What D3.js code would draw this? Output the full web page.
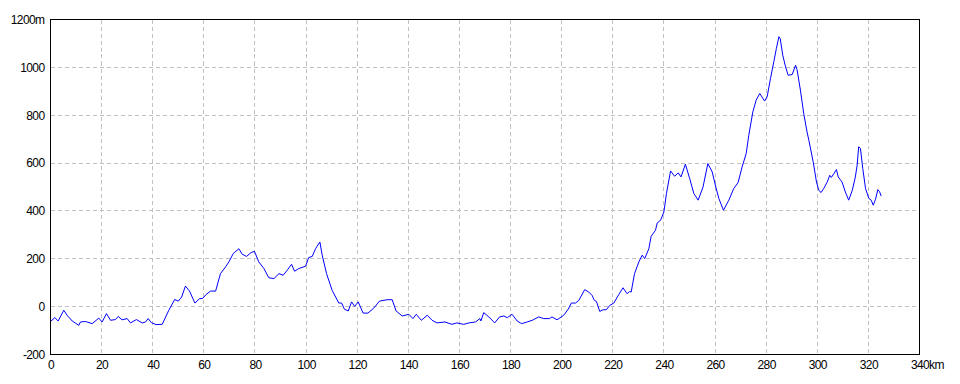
<!DOCTYPE html>
<meta charset="utf-8">
<style>
  body { margin: 0; background: #fff; }
  text { font-family: 'Liberation Sans', sans-serif; font-size: 12px; letter-spacing: -0.6px; fill: #000; }
</style>

<!-- Load d3.js -->
<script src="https://d3js.org/d3.v7.min.js"></script>

<div id="my_dataviz"></div>

<script>

// distance along the route (km) and elevation (m)
var distKm = [0, 1.7, 3, 5.2, 6.5, 8.5, 11.1, 11.7, 13.7, 16.3, 18.9, 20.2, 21.9, 23.5, 25.4, 26.5, 28, 30,
  31.3, 33.6, 35.9, 37.2, 38.2, 39.5, 41.3, 43.7, 46.3, 48.6, 50, 51.3, 52.8, 54.4, 56.5, 58.3, 59.6,
  60.9, 62.6, 64.6, 66.5, 68.5, 69.8, 71.5, 73.7, 75, 76.7, 78.5, 79.8, 81.5, 83.5, 85.4, 87.4, 89.4,
  91, 92.6, 94.3, 95.5, 97.1, 99.8, 101, 102.4, 103.7, 105.4, 106.3, 108, 110.2, 112.8, 113.9, 115,
  116.5, 117.8, 119, 120.4, 122.3, 124.2, 126.5, 128.7, 131.7, 133.7, 135.2, 137.6, 140.2, 141.8,
  143.1, 145.1, 147.4, 149.3, 151.2, 154.3, 157.1, 159, 161.7, 163.7, 166.3, 168, 168.4, 169.5,
  171.5, 173.8, 175.7, 177.4, 178.7, 180.6, 182.6, 184.3, 186.5, 188.5, 191, 193, 195.2, 196.2,
  198.2, 200.8, 202.6, 203.8, 205.4, 206.7, 209, 210.6, 211.9, 212.8, 213.6, 214.9, 216.2, 217.5,
  218.8, 220.4, 222.3, 224, 225.6, 226.5, 227.2, 228.5, 230.2, 231.5, 232.5, 234.1, 235, 236.7,
  237.4, 238.7, 240, 241, 242.6, 244.2, 245.6, 246.7, 248.4, 250.1, 251.7, 253.4, 255.3, 257.2,
  258.9, 260.3, 261.5, 263.3, 265.4, 267.3, 269, 270.6, 272.2, 273.2, 274.8, 276.1, 277.5, 279.4,
  280.4, 281.7, 283, 284, 285, 285.5, 286.5, 287.6, 288.6, 290.2, 291.5, 292.1, 293.4, 294.7, 296,
  296.7, 298.4, 299.7, 300.6, 301.5, 302.5, 303.9, 304.9, 305.5, 306.5, 307.5, 308.2, 309.7, 311,
  312.3, 313.7, 314.9, 315.6, 316.2, 316.9, 317.8, 318.9, 320.2, 321.1, 321.9, 322.8, 323.7, 324.4, 325];

var elevM = [-62, -46, -60, -15, -36, -60, -78, -64, -62, -71, -48, -64, -29, -57, -54, -41, -55, -50,
  -68, -54, -68, -64, -50, -67, -75, -74, -15, 30, 23, 40, 86, 65, 15, 33, 35,
  51, 65, 65, 138, 166, 187, 222, 242, 219, 210, 226, 231, 187, 159, 121, 117, 138,
  131, 152, 177, 148, 159, 169, 205, 210, 242, 270, 215, 138, 68, 15, 15, -11,
  -18, 20, 1, 20, -27, -27, -6, 23, 29, 29, -18, -39, -32, -50,
  -32, -57, -36, -57, -68, -64, -74, -68, -74, -68, -64, -50, -60, -25,
  -43, -68, -43, -39, -46, -32, -60, -71, -64, -57, -43, -50, -50, -43,
  -55, -36, -10, 15, 15, 26, 71, 61, 47, 26, 22, -20, -13, -13,
  5, 15, 50, 79, 54, 63, 61, 138, 187, 215, 201, 242, 294, 319,
  350, 361, 396, 473, 567, 545, 559, 542, 595, 535, 473, 445, 500, 598,
  563, 500, 452, 403, 445, 493, 518, 584, 640, 716, 814, 863, 891, 859,
  877, 954, 1023, 1079, 1128, 1120, 1051, 1002, 967, 970, 1009, 990, 905, 807, 730,
  696, 605, 521, 486, 477, 493, 521, 549, 540, 556, 573, 542, 521, 479,
  445, 486, 542, 591, 668, 661, 577, 493, 452, 445, 424, 449, 489, 480, 462];

// tick values
var xTicks = d3.range(0, 341, 20);
var yTicks = d3.range(-200, 1201, 200);

// set the dimensions and margins of the graph
var margin = {top: 19.5, right: 40.5, bottom: 29.5, left: 50.5},
    width = 960 - 50 - 41,
    height = 354 - 19;

// append the svg object to the body of the page
var svg = d3.select("#my_dataviz")
  .append("svg")
    .attr("width", 960)
    .attr("height", 384)
  .append("g")
    .attr("transform", "translate(" + margin.left + "," + margin.top + ")");

var x = d3.scaleLinear().domain([0, 340]).range([0, width]);
var y = d3.scaleLinear().domain([-200, 1200]).range([height, 0]);

// dashed grid (inner lines only, the frame covers the edges)
svg.append("g")
  .selectAll("line")
  .data(xTicks.slice(1, -1))
  .enter().append("line")
    .attr("x1", function(d) { return Math.round(x(d)); })
    .attr("x2", function(d) { return Math.round(x(d)); })
    .attr("y1", 0)
    .attr("y2", height)
    .attr("stroke", "#c0c0c0")
    .attr("stroke-dasharray", "4,3")
    .attr("shape-rendering", "crispEdges");

svg.append("g")
  .selectAll("line")
  .data(yTicks.slice(1, -1))
  .enter().append("line")
    .attr("x1", 0)
    .attr("x2", width)
    .attr("y1", function(d) { return Math.round(y(d)); })
    .attr("y2", function(d) { return Math.round(y(d)); })
    .attr("stroke", "#c0c0c0")
    .attr("stroke-dasharray", "4,3")
    .attr("shape-rendering", "crispEdges");

// X axis
var xAxis = svg.append("g")
  .attr("transform", "translate(0," + height + ")")
  .call(d3.axisBottom(x).tickValues(xTicks).tickSize(0).tickPadding(6));
xAxis.select(".domain").remove();

// last label gets the unit, keeping the number centred on its tick
var lastX = xAxis.selectAll(".tick text").filter(function(d) { return d === 340; });
var w340 = lastX.node().getComputedTextLength();
lastX.attr("text-anchor", "start").attr("x", -w340 / 2).text("340km");

// Y axis
var yAxis = svg.append("g")
  .call(d3.axisLeft(y).tickValues(yTicks).tickSize(0).tickPadding(6)
    .tickFormat(function(d) { return d === 1200 ? "1200m" : d; }));
yAxis.select(".domain").remove();

svg.selectAll(".tick text")
  .attr("font-family", null)
  .attr("font-size", null)
  .attr("fill", "#000");

// elevation line
var pts = distKm.map(function(d, i) { return [d, elevM[i]]; });
svg.append("path")
  .datum(pts)
  .attr("fill", "none")
  .attr("stroke", "#0000ff")
  .attr("stroke-width", 1)
  .attr("d", d3.line()
    .x(function(d) { return x(d[0]); })
    .y(function(d) { return y(d[1]); }));

// frame
svg.append("rect")
  .attr("x", 0)
  .attr("y", 0)
  .attr("width", width)
  .attr("height", height)
  .attr("fill", "none")
  .attr("stroke", "#000");

</script>
